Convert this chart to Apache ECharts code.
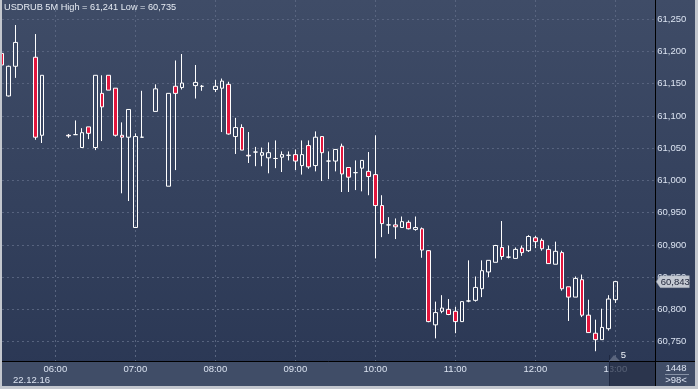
<!DOCTYPE html>
<html><head><meta charset="utf-8">
<script src="https://cdn.jsdelivr.net/npm/echarts@6/dist/echarts.min.js"></script>
<style>html,body{margin:0;padding:0;background:#2f3c59}#c{width:698px;height:389px}</style>
</head><body><div id="c"></div>
<script>
// ---- data (5-minute candles, USDRUB, 22.12.16) ----
const times = [
  '05:20','05:25','05:30','05:45','05:50',
  '06:10','06:15','06:20','06:25','06:30','06:35','06:40','06:45','06:50','06:55',
  '07:00','07:05','07:15','07:25','07:30','07:35','07:45','07:50',
  '08:00','08:05','08:10','08:15','08:20','08:25','08:30','08:35','08:40','08:45','08:50','08:55',
  '09:00','09:05','09:10','09:15','09:20','09:25','09:30','09:35','09:40','09:45','09:50','09:55',
  '10:00','10:05','10:10','10:15','10:20','10:25','10:30','10:35','10:40','10:45','10:50','10:55',
  '11:00','11:05','11:10','11:15','11:20','11:25','11:30','11:35','11:40','11:45','11:50','11:55',
  '12:00','12:05','12:10','12:15','12:20','12:25','12:30','12:35','12:40','12:45','12:50','12:55',
  '13:00'
];
const opens = [
  61197,61131,61177,61191,61070,
  61070,61071,61051,61083,61051,61135,61163,61143,61070,61067,
  60927,61067,61107,60991,61146,61144,61147,61146,
  61141,61143,61149,61068,61082,61039,61044,61039,61035,61034,61036,61039,
  61040,61023,61054,61023,61068,61030,61030,61053,61020,61012,61019,61014,
  61009,60961,60931,60931,60927,60935,60924,60925,60891,60776,60797,60800,
  60797,60781,60813,60814,60832,60858,60873,60896,60881,60879,60895,60891,
  60911,60907,60893,60870,60888,60835,60819,60846,60791,60763,60753,60770,
  60815
];
const closes = [
  61179,61177,61214,61067,61163,
  61069,61071,61074,61073,61163,61114,61140,61070,61067,61110,
  61068,61067,61142,61135,61135,61151,61152,61146,
  61146,61154,61072,61082,61047,61038,61044,61043,61043,61034,61040,61039,
  61030,61040,61021,61067,61043,61030,61048,61010,61005,61012,61031,61006,
  60961,60933,60931,60928,60936,60925,60927,60892,60781,60795,60802,60792,
  60781,60812,60813,60834,60860,60876,60899,60882,60881,60893,60888,60913,
  60905,60894,60871,60890,60832,60819,60848,60791,60764,60753,60772,60816,
  60843
];
const lows = [
  61175,61130,61159,61063,61058,
  61066,61071,61051,61064,61047,61061,61140,61068,60980,60968,
  60927,61067,61107,60991,61016,61141,61127,61139,
  61137,61075,61071,61041,61047,61027,61022,61022,61011,61019,61013,61031,
  61016,61009,61018,61014,60999,61002,61014,60982,60982,60985,60983,60977,
  60879,60912,60917,60909,60927,60924,60922,60880,60780,60755,60794,60791,
  60763,60781,60811,60812,60819,60850,60873,60877,60879,60879,60883,60889,
  60895,60891,60871,60870,60829,60782,60819,60788,60764,60735,60753,60767,
  60810
];
const highs = [
  61200,61178,61241,61227,61163,
  61072,61093,61081,61083,61163,61163,61163,61143,61090,61110,
  61073,61139,61149,61135,61186,61196,61179,61148,
  61156,61158,61153,61097,61087,61075,61052,61051,61059,61062,61045,61045,
  61048,61062,61062,61076,61068,61045,61048,61057,61020,61031,61031,61044,
  61070,60977,60943,60941,60944,60938,60944,60927,60892,60812,60822,60816,
  60804,60812,60876,60851,60876,60876,60900,60937,60899,60896,60899,60915,
  60914,60910,60899,60905,60891,60835,60851,60854,60815,60784,60801,60822,
  60844
];
const titleText = 'USDRUB 5M High = 61,241 Low = 60,735';
const dateLabel = '22.12.16';
const lastPrice = 60843;
const lastPriceLabel = '60,843';
const footerTop = '1448';
const footerBottom = '>98<';
const periodLabel = '5';
const firstSlot = '05:20', lastSlot = '13:30';

// ---- build category slots ----
function toMin(s){const p=s.split(':');return +p[0]*60+ +p[1];}
function toStr(m){return String(Math.floor(m/60)).padStart(2,'0')+':'+String(m%60).padStart(2,'0');}
const cats = [];
for (let m = toMin(firstSlot); m <= toMin(lastSlot); m += 5) cats.push(toStr(m));
const data = cats.map(c => {
  const i = times.indexOf(c);
  return i < 0 ? ['-','-','-','-'] : [opens[i], closes[i], lows[i], highs[i]];
});

const FONT = '"Liberation Sans", Arial, sans-serif';
const TXT = '#dbe3f1';
const fmt = v => Math.round(v).toString().replace(/\B(?=(\d{3})+(?!\d))/g, ',');
const isHour = (i, v) => v.endsWith(':00');

const chart = echarts.init(document.getElementById('c'), null, {renderer:'canvas'});
const option = {
  animation: false,
  backgroundColor: new echarts.graphic.LinearGradient(0,0,0,1,[
    {offset:0,color:'#3f4c67'},{offset:1,color:'#2a3754'}]),
  title: {
    text: titleText, left: 4, top: 3, padding: 0,
    textStyle: {color:'#e6ebf3', fontSize: 9.2, fontWeight:'normal', fontFamily: FONT}
  },
  grid: { left: 1.97, right: 42.7, top: 0, bottom: 28, containLabel: false },
  xAxis: {
    type: 'category', data: cats, boundaryGap: false, z: 1,
    axisLine: {show:true, lineStyle:{color:'#000', width:1}},
    axisTick: {show:false},
    axisLabel: {interval: isHour, color: TXT, fontSize: 9.5, margin: 3, fontFamily: FONT},
    splitLine: {show:true, interval: isHour, lineStyle:{color:'#58647f', width:1, type:[2,3]}}
  },
  yAxis: {
    type: 'value', position: 'right', min: 60719.9, max: 61279.8, splitNumber: 11, z: 1,
    axisLine: {show:true, lineStyle:{color:'#000', width:1}},
    axisTick: {show:false},
    axisLabel: {color: TXT, fontSize: 9.5, margin: 2, fontFamily: FONT,
      showMinLabel:false, showMaxLabel:false, formatter: fmt},
    splitLine: {show:true, showMinLine:false, showMaxLine:false,
      lineStyle:{color:'#58647f', width:1, type:[2,3]}}
  },
  series: [{
    type: 'candlestick', data: data, barWidth: 4, z: 2,
    itemStyle: {color:'rgba(0,0,0,0)', color0:'#e2163d', borderColor:'#ffffff', borderColor0:'#ffffff', borderWidth:1}
  }],
  graphic: [
    {id:'band', type:'rect', z:0, silent:true, shape:{x:0,y:361.5,width:698,height:28}, style:{fill:'#404d67'}},
    {id:'dark', type:'rect', z:10, silent:true, shape:{x:609,y:362,width:46,height:24}, style:{fill:'rgba(34,44,68,0.72)'}},
    {id:'darkline', type:'line', z:10, silent:true, shape:{x1:609.5,y1:355,x2:609.5,y2:386}, style:{stroke:'#1f2942',lineWidth:1}},
    {id:'tab', type:'polygon', z:10, silent:true, shape:{points:[[609,361],[614,355],[620,361]]}, style:{fill:'#5a657d'}},
    {id:'five', type:'text', z:10, silent:true, x:623.5, y:355, style:{text:periodLabel, fill:'#eef2f8', font:'9.5px '+FONT, align:'center', verticalAlign:'middle'}},
    {id:'rline', type:'line', z:10, silent:true, shape:{x1:655.5,y1:361,x2:655.5,y2:386}, style:{stroke:'#000',lineWidth:1}},
    {id:'bline', type:'line', z:10, silent:true, shape:{x1:655,y1:361.5,x2:698,y2:361.5}, style:{stroke:'#000',lineWidth:1}},
    {id:'date', type:'text', z:10, silent:true, x:13, y:380, style:{text:dateLabel, fill:TXT, font:'9.5px '+FONT, align:'left', verticalAlign:'middle'}},
    {id:'f1', type:'text', z:10, silent:true, x:676, y:368.5, style:{text:footerTop, fill:TXT, font:'9.5px '+FONT, align:'center', verticalAlign:'middle'}},
    {id:'fsep', type:'line', z:10, silent:true, shape:{x1:665,y1:374.5,x2:689,y2:374.5}, style:{stroke:'#8792a6',lineWidth:1}},
    {id:'f2', type:'text', z:10, silent:true, x:676, y:380.5, style:{text:footerBottom, fill:TXT, font:'9.5px '+FONT, align:'center', verticalAlign:'middle'}},
    {id:'bl', type:'rect', z:20, silent:true, shape:{x:0,y:0,width:2,height:389}, style:{fill:'#c3c7ce'}},
    {id:'bb', type:'rect', z:20, silent:true, shape:{x:0,y:386,width:698,height:3}, style:{fill:'#c3c7ce'}},
    {id:'br', type:'rect', z:20, silent:true, shape:{x:695,y:0,width:3,height:389}, style:{fill:'#c3c7ce'}}
  ]
};
chart.setOption(option);

// last price tag, placed through the y scale
const py = chart.convertToPixel({yAxisIndex:0}, lastPrice);
const px = chart.convertToPixel({xAxisIndex:0}, lastSlot);
chart.setOption({graphic: [
  {id:'tagbox', type:'polygon', z:12, silent:true,
   shape:{points:[[px+1,py],[px+5,py-6],[px+34,py-6],[px+34,py+6],[px+5,py+6]]},
   style:{fill:'#c4c9d2', stroke:'#9aa1ad', lineWidth:0.5}},
  {id:'tagtxt', type:'text', z:13, silent:true, x:px+5.5, y:py+0.5,
   style:{text:lastPriceLabel, fill:'#1c2237', font:'9.5px '+FONT, align:'left', verticalAlign:'middle'}}
]});
</script>
</body></html>
